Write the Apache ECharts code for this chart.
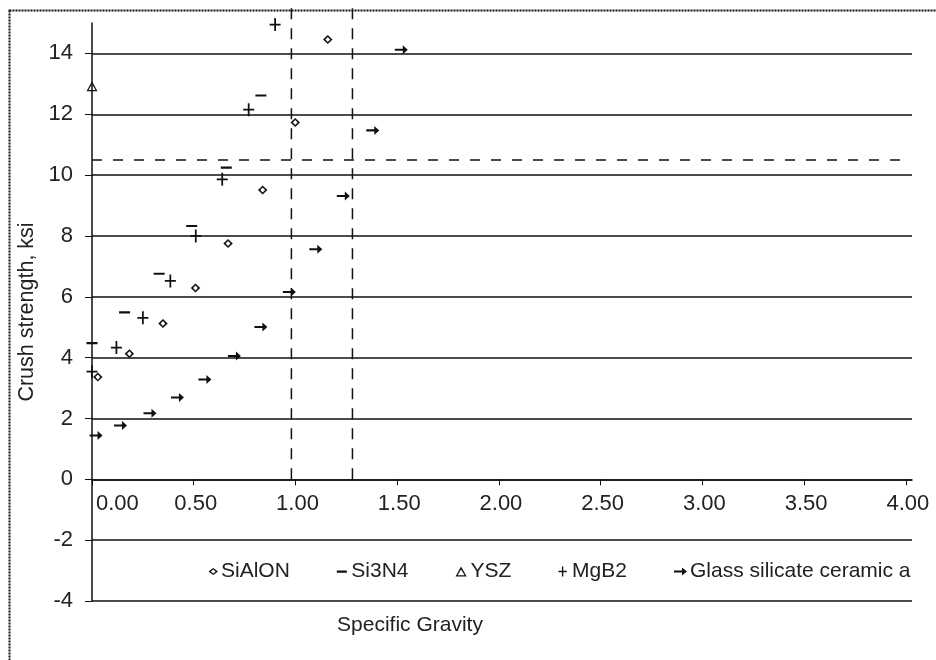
<!DOCTYPE html>
<html><head><meta charset="utf-8">
<script src="https://cdn.jsdelivr.net/npm/echarts@6/dist/echarts.min.js"></script>
<style>html,body{margin:0;padding:0;background:#fff}#c{width:936px;height:660px}</style>
</head><body><div id="c"></div>
<script>
// ---- data ----
const seriesNames = ['SiAlON', 'Si3N4', 'YSZ', 'MgB2', 'Glass silicate ceramic a'];
const sialon = [[0.02,3.36],[0.175,4.13],[0.34,5.12],[0.50,6.29],[0.66,7.75],[0.83,9.51],[0.99,11.73],[1.15,14.46]];
const si3n4  = [[0.0,4.48],[0.16,5.49],[0.33,6.76],[0.49,8.33],[0.66,10.25],[0.83,12.62]];
const ysz    = [[0.0,12.92]];
const mgb2   = [[0.0,3.54],[0.12,4.33],[0.25,5.31],[0.385,6.52],[0.51,8.0],[0.64,9.86],[0.77,12.15],[0.90,14.95]];
const glass  = [[0.02,1.44],[0.14,1.77],[0.285,2.17],[0.42,2.69],[0.555,3.28],[0.70,4.05],[0.83,5.01],[0.97,6.16],[1.10,7.56],[1.235,9.31],[1.38,11.47],[1.52,14.12]];
const refX = [0.98, 1.28];      // vertical dashed reference lines
const refXTop = 15.5;
const refY = 10.5;              // horizontal dashed reference line
const refYEnd = 3.99;
const xTickLabels = ['0.00','0.50','1.00','1.50','2.00','2.50','3.00','3.50','4.00'];

const FONT = "'Liberation Sans',Arial,sans-serif";
const TXT = '#222';

const symbols = {
  'SiAlON': 'path://M0,5 L3,5 L7,2 L11,5 L7,8 L3,5 Z M7,3.3 L5,5 L7,6.7 L9,5 Z',
  'Si3N4': 'path://M0,0 L0.01,0 Z M0,4 L10,4 L10,6.2 L0,6.2 Z M0,10 L0.01,10 Z',
  'YSZ': 'path://M5,0 L10,9 L0,9 Z M5,2.6 L1.8,7.9 L8.2,7.9 Z',
  'MgB2': 'path://M4.2,0 L5.8,0 L5.8,5.2 L10,5.2 L10,6.8 L5.8,6.8 L5.8,12 L4.2,12 L4.2,6.8 L0,6.8 L0,5.2 L4.2,5.2 Z',
  'Glass silicate ceramic a': 'path://M0,4.1 L8,4.1 L8,1 L13,5 L8,9 L8,5.9 L0,5.9 Z'
};
const sizes = {
  'SiAlON': [13, 9], 'Si3N4': [11, 10], 'YSZ': [11, 10], 'MgB2': [11, 13], 'Glass silicate ceramic a': [13, 9]
};
const dataMap = {'SiAlON': sialon, 'Si3N4': si3n4, 'YSZ': ysz, 'MgB2': mgb2, 'Glass silicate ceramic a': glass};

const scatterSeries = seriesNames.map(n => ({
  name: n, type: 'scatter', data: dataMap[n],
  symbol: symbols[n], symbolSize: sizes[n],
  itemStyle: {color: '#111', opacity: 1},
  z: 5
}));

const refSeries = refX.map(x => ({
  type: 'line', data: [[x, 0], [x, refXTop]], symbol: 'none', clip: false, silent: true,
  lineStyle: {color: '#111', width: 1.5, type: [11, 9]}, z: 3
}));
refSeries.push({
  type: 'line', data: [[0, refY], [refYEnd, refY]], symbol: 'none', silent: true,
  lineStyle: {color: '#111', width: 1.5, type: [10, 11]}, z: 3
});

const splitColors = ['#111','#111','#111','#111','#111','#111','#111','#111','#111','#111','rgba(0,0,0,0)'];

const Y_MIN = -4, Y_MAX = 15, GRID_TOP = 23, GRID_BOTTOM = 59, H = 660;
const plotH = H - GRID_TOP - GRID_BOTTOM;
// x axis sits on the y = 0 line (as in the reference)
const xAxisOffset = -plotH * (0 - Y_MIN) / (Y_MAX - Y_MIN);

const chart = echarts.init(document.getElementById('c'), null, {renderer: 'canvas'});
chart.setOption({
  animation: false,
  backgroundColor: '#fff',
  textStyle: {fontFamily: FONT},
  grid: {left: 92, right: 24, top: GRID_TOP, bottom: GRID_BOTTOM, containLabel: false, outerBoundsMode: 'none'},
  graphic: [{
    type: 'rect', left: 7, top: 8, silent: true,
    shape: {width: 960, height: 700},
    style: {fill: 'none', stroke: '#111', lineWidth: 2, lineDash: [2, 1]}
  }],
  legend: {
    data: seriesNames,
    left: 200, top: 556, width: 730,
    itemWidth: 13, itemHeight: 10, itemGap: 47,
    textStyle: {fontFamily: FONT, fontSize: 21, color: TXT, padding: [0, 0, 0, -2]},
    selectedMode: false
  },
  xAxis: {
    type: 'value', min: 0, max: 4.03, interval: 0.5,
    position: 'bottom', offset: xAxisOffset,
    name: 'Specific Gravity', nameLocation: 'middle', nameGap: 135,
    nameTextStyle: {fontFamily: FONT, fontSize: 21, color: TXT, padding: [0, 184, 0, 0]},
    axisLine: {onZero: false, lineStyle: {color: '#111', width: 1.5}},
    axisTick: {show: true, inside: false, length: 6, lineStyle: {color: '#111'}},
    axisLabel: {
      fontFamily: FONT, fontSize: 22, color: TXT, margin: 14,
      showMaxLabel: false, alignMinLabel: 'left', padding: [0, 0, 0, 4],
      formatter: (v) => xTickLabels[Math.round(v / 0.5)] || ''
    },
    splitLine: {show: false}
  },
  yAxis: {
    type: 'value', min: Y_MIN, max: Y_MAX, interval: 2,
    name: 'Crush strength, ksi', nameLocation: 'middle', nameGap: 46,
    nameTextStyle: {fontFamily: FONT, fontSize: 21.5, color: TXT},
    axisLine: {show: true, lineStyle: {color: '#111', width: 1.5}},
    axisTick: {show: true, length: 7, lineStyle: {color: '#111'}},
    axisLabel: {fontFamily: FONT, fontSize: 22, color: TXT, margin: 19, showMaxLabel: false},
    splitLine: {show: true, lineStyle: {color: splitColors, width: 1.6}}
  },
  series: scatterSeries.concat(refSeries)
});
</script></body></html>
